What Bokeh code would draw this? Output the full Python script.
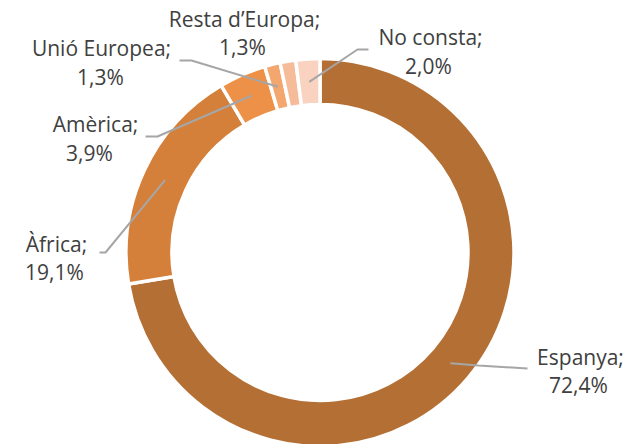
import numpy as np
from bokeh.plotting import figure
from bokeh.models import Range1d
from bokeh.core.properties import value
from bokeh.embed import file_html
from bokeh.resources import INLINE

# ---- data ----
categories = ["Espanya", "Àfrica", "Amèrica", "Unió Europea", "Resta d’Europa", "No consta"]
shares = [72.4, 19.1, 3.9, 1.3, 1.3, 2.0]
colors = ["#B46F34", "#D4803B", "#EC9147", "#F4A66F", "#F6BC9A", "#F9D3C0"]

# ---- layout (pixel coords, origin top-left) ----
W, H = 635, 444
CX, CY = 319.5, 252.0
R_OUT, R_IN = 194.0, 148.0
name_pos = [(580, 356), (56, 243), (95, 123), (101, 47), (244, 18), (430, 36)]
pct_pos = [(578, 384), (54, 271), (89, 152), (100, 76), (242, 46), (428, 65)]
leader_tail = [
    [(478, 365), (527, 368)],
    [(105, 252), (99, 252)],
    [(157, 136), (145, 136)],
    [(191, 60), (179, 60)],
    None,
    [(357, 49), (368, 49)],
]

def fy(y):
    return H - y

p = figure(width=W, height=H, output_backend="svg", toolbar_location=None,
           x_range=Range1d(0, W), y_range=Range1d(0, H), min_border=0)
p.axis.visible = False
p.grid.visible = False
p.outline_line_color = None
p.background_fill_color = "white"
p.border_fill_color = "white"

vals = np.array(shares, dtype=float)
frac = vals / vals.sum()
cum = np.concatenate([[0.0], np.cumsum(frac)])
start = np.pi / 2 - 2 * np.pi * cum[:-1]
end = np.pi / 2 - 2 * np.pi * cum[1:]

p.annular_wedge(x=[CX] * len(vals), y=[fy(CY)] * len(vals),
                inner_radius=R_IN, outer_radius=R_OUT,
                start_angle=list(start), end_angle=list(end), direction="clock",
                fill_color=colors, line_color="white", line_width=3.5)

# leader lines
xs, ys = [], []
r_mid = (R_IN + R_OUT) / 2
for i, tail in enumerate(leader_tail):
    if tail is None:
        continue
    mid = (cum[i] + cum[i + 1]) / 2 * 2 * np.pi
    sx = CX + r_mid * np.sin(mid)
    sy = CY - r_mid * np.cos(mid)
    pts = [(sx, sy)] + tail
    xs.append([pt[0] for pt in pts])
    ys.append([fy(pt[1]) for pt in pts])
p.multi_line(xs=xs, ys=ys, line_color="#A6A6A6", line_width=2)

names = [c + ";" for c in categories]
pcts = [f"{v:.1f}".replace(".", ",") + "%" for v in shares]
font = value("Open Sans")
p.text(x=[q[0] for q in name_pos], y=[fy(q[1]) for q in name_pos], text=names,
       text_font=font, text_font_size="21px", text_color="#404040",
       text_align="center", text_baseline="middle")
p.text(x=[q[0] for q in pct_pos], y=[fy(q[1]) for q in pct_pos], text=pcts,
       text_font=font, text_font_size="21px", text_color="#404040",
       text_align="center", text_baseline="middle")

open("out.html", "w").write(file_html(p, INLINE))
